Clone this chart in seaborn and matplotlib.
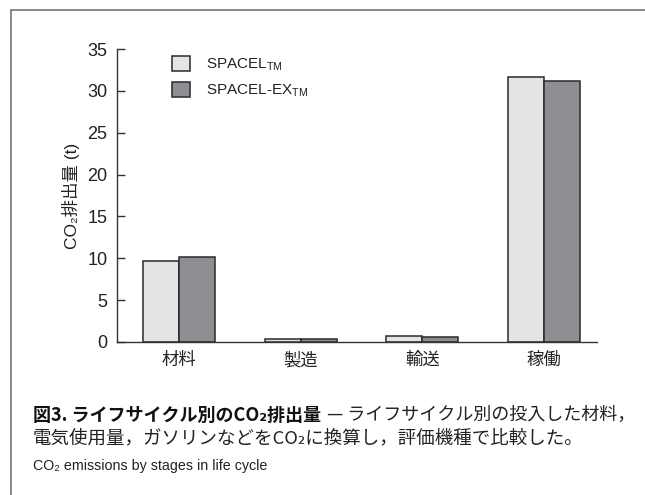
import matplotlib
matplotlib.use("Agg")
import matplotlib.pyplot as plt
import seaborn as sns
import pandas as pd
from matplotlib.lines import Line2D

# ---- data ----
categories = ["材料", "製造", "輸送", "稼働"]
models = ["SPACEL", "SPACEL-EX"]
spacel = [9.7, 0.4, 0.7, 31.7]
spacel_ex = [10.2, 0.3, 0.6, 31.2]
yticks = [0, 5, 10, 15, 20, 25, 30, 35]
legend_labels = [r"SPACEL$_{\mathrm{TM}}$", r"SPACEL-EX$_{\mathrm{TM}}$"]
ylabel = "CO₂排出量 (t)"
caption_bold = "図3. ライフサイクル別のCO₂排出量"
caption_rest1 = "— ライフサイクル別の投入した材料，"
caption_line2 = "電気使用量，ガソリンなどをCO₂に換算し，評価機種で比較した。"
caption_en = "CO₂ emissions by stages in life cycle"
colors = ["#e3e4e6", "#8e8f93"]

sns.set_theme(style="white")
plt.rcParams["font.family"] = ["Liberation Sans", "Noto Sans CJK JP", "DejaVu Sans"]
plt.rcParams["mathtext.fontset"] = "custom"
plt.rcParams["mathtext.rm"] = "Liberation Sans"
plt.rcParams["mathtext.it"] = "Liberation Sans:italic"
plt.rcParams["mathtext.bf"] = "Liberation Sans:bold"

df = pd.DataFrame({
    "stage": categories * 2,
    "model": [models[0]] * len(categories) + [models[1]] * len(categories),
    "value": spacel + spacel_ex,
})

W, H = 645, 495
fig = plt.figure(figsize=(W / 100, H / 100), dpi=100)
ax = fig.add_axes([117 / W, 1 - 342 / H, 480 / W, (342 - 49) / H])

sns.barplot(data=df, x="stage", y="value", hue="model", order=categories,
            hue_order=models, palette=colors, saturation=1, width=0.592,
            edgecolor="#2a2a2a", linewidth=1.1, ax=ax)

ax.set_xlim(-0.51, 3.435)
ax.set_ylim(0, 35)
ax.set_yticks(yticks)
sns.despine(ax=ax)
for s in ("left", "bottom"):
    ax.spines[s].set_color("#333333")
    ax.spines[s].set_linewidth(1.0)
ax.tick_params(axis="y", left=True, direction="in", length=5.5, width=1.0,
               color="#333333", pad=7, labelsize=13, labelcolor="#222222")
ax.tick_params(axis="x", bottom=False, length=0, pad=7, labelsize=12.5,
               labelcolor="#222222")
ax.set_xlabel("")
ax.set_ylabel(ylabel, fontsize=12.5, color="#222222")
ax.yaxis.set_label_coords(-0.078, 0.5)

handles, _ = ax.get_legend_handles_labels()
leg = ax.legend(handles, legend_labels, loc="upper left",
                bbox_to_anchor=(172 / W, 1 - 56 / H),
                bbox_transform=fig.transFigure, frameon=False, fontsize=11,
                handlelength=1.18, handleheight=1.1, handletextpad=1.05,
                labelspacing=0.62, borderpad=0, borderaxespad=0)
for t in leg.get_texts():
    t.set_color("#222222")

cjk = ["Noto Sans CJK JP", "DejaVu Sans"]
t1 = fig.text(33 / W, 1 - 415 / H, caption_bold, fontsize=13,
              fontweight="bold", family=cjk, va="center", ha="left",
              color="#111111")
ax.annotate(caption_rest1, xy=(1, 0.5), xycoords=t1, xytext=(4, 0),
            textcoords="offset points", va="center", ha="left",
            fontsize=13, family=cjk, color="#222222")
fig.text(33 / W, 1 - 438 / H, caption_line2, fontsize=13.3, family=cjk,
         va="center", ha="left", color="#222222")
fig.text(33 / W, 1 - 466 / H, caption_en, fontsize=10.3,
         family=["Liberation Sans", "DejaVu Sans"],
         va="center", ha="left", color="#222222")

fig.add_artist(Line2D([11 / W, 11 / W], [0, 1 - 10 / H],
                      transform=fig.transFigure, color="#777777", lw=1.2))
fig.add_artist(Line2D([11 / W, 1], [1 - 10 / H, 1 - 10 / H],
                      transform=fig.transFigure, color="#777777", lw=1.2))

fig.savefig("out.png", dpi=100)
